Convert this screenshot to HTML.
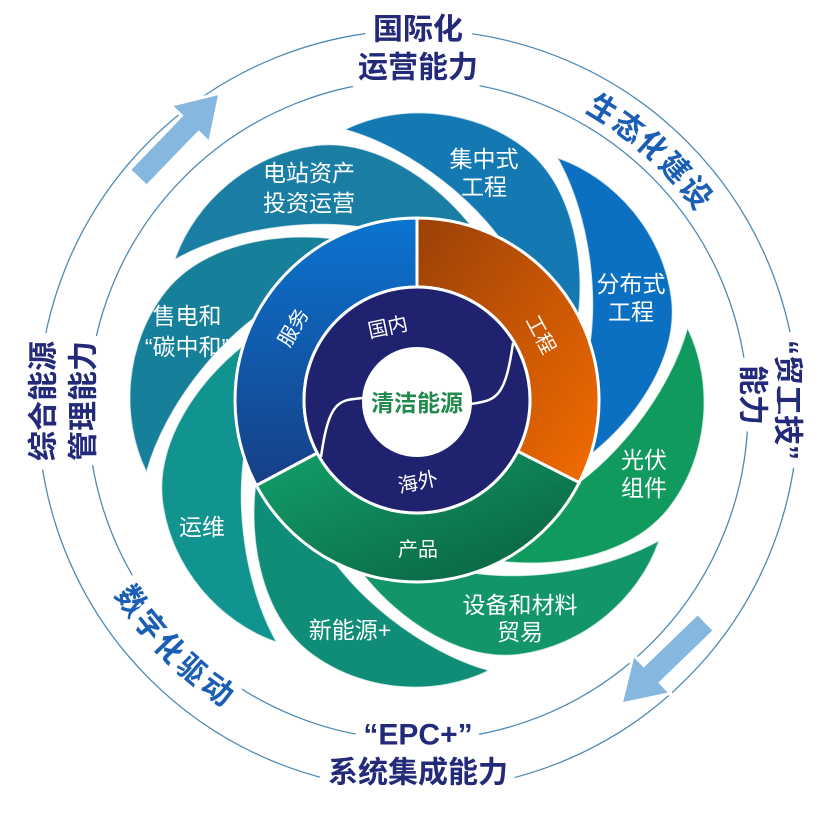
<!DOCTYPE html>
<html><head><meta charset="utf-8">
<style>
html,body{margin:0;padding:0;background:#fff;}
svg{display:block;}
text{font-family:"Liberation Sans","Noto Sans CJK SC",sans-serif;}
</style></head>
<body>
<svg width="832" height="822" viewBox="0 0 832 822" xmlns="http://www.w3.org/2000/svg">
<defs>
  <path id="blade" d="M0,-280 C60,-292 130,-268 170,-215 C205,-168 200,-95 178,-40 L130,-109 C115,-170 60,-245 0,-280 Z"/>
  <path id="cw" d="M418,58 A352,352 0 1 1 418,762 A352,352 0 1 1 418,58"/>
  <path id="ccw" d="M418,65 A345,345 0 1 0 418,755 A345,345 0 1 0 418,65"/>
  <clipPath id="clipTop"><rect x="0" y="0" width="545" height="300"/></clipPath>
  <linearGradient id="gBlue" x1="0" y1="0" x2="0" y2="1"><stop offset="0" stop-color="#0a74d0"/><stop offset="1" stop-color="#173f86"/></linearGradient>
  <linearGradient id="gOrange" x1="0" y1="0" x2="1" y2="1"><stop offset="0" stop-color="#9a4008"/><stop offset="1" stop-color="#f46c00"/></linearGradient>
  <linearGradient id="gGreen" x1="0" y1="0" x2="1" y2="1"><stop offset="0" stop-color="#12a06a"/><stop offset="1" stop-color="#0a5e3e"/></linearGradient>
</defs>

<circle cx="418" cy="410" r="380" fill="none" stroke="#4f8ab5" stroke-width="1.3"/>
<circle cx="418" cy="410" r="330" fill="none" stroke="#4f8ab5" stroke-width="1.3"/>

<g transform="translate(138,178) rotate(-46)"><polygon points="0,-12 75,-12 75,-27 118,0 75,27 75,12 0,12" fill="#86b8df" stroke="#fff" stroke-width="3"/></g>
<g transform="translate(706,622) rotate(136)"><polygon points="0,-12 75,-12 75,-27 118,0 75,27 75,12 0,12" fill="#86b8df" stroke="#fff" stroke-width="3"/></g>

<g stroke="rgba(255,255,255,0.75)" stroke-width="1.5">
<use href="#blade" transform="translate(417,400) rotate(-15)" fill="#1479b3"/>
<use href="#blade" transform="translate(417,400) rotate(30)" fill="#0b6fc2"/>
<use href="#blade" transform="translate(417,400) rotate(75)" fill="#109a5e"/>
<use href="#blade" transform="translate(417,400) rotate(120)" fill="#12956a"/>
<use href="#blade" transform="translate(417,400) rotate(165)" fill="#0f8d76"/>
<use href="#blade" transform="translate(417,400) rotate(210)" fill="#119390"/>
<use href="#blade" transform="translate(417,400) rotate(255)" fill="#167f99"/>
<use href="#blade" transform="translate(417,400) rotate(300)" fill="#1a7ea4"/>
<g clip-path="url(#clipTop)"><use href="#blade" transform="translate(417,400) rotate(-15)" fill="#1479b3"/></g>
</g>

<g stroke="#fff" stroke-width="3">
<path d="M417,218 A182,182 0 0 1 579.2,482.6 L517.7,451.3 A113,113 0 0 0 417,287 Z" fill="url(#gOrange)"/>
<path d="M579.2,482.6 A182,182 0 0 1 256.3,485.4 L317.2,453 A113,113 0 0 0 517.7,451.3 Z" fill="url(#gGreen)"/>
<path d="M256.3,485.4 A182,182 0 0 1 417,218 L417,287 A113,113 0 0 0 317.2,453 Z" fill="url(#gBlue)"/>
</g>
<circle cx="417" cy="400" r="113" fill="#1f226e" stroke="#fff" stroke-width="3"/>
<circle cx="417" cy="402" r="55" fill="#fff"/>
<path d="M513,343 C505,400 495,400 471,404" fill="none" stroke="#fff" stroke-width="2.5"/>
<path d="M321,457 C329,400 339,400 363,398" fill="none" stroke="#fff" stroke-width="2.5"/>

<g fill="#fff" font-size="20" text-anchor="middle" dominant-baseline="central">
<text x="388" y="328" transform="rotate(-12 388 328)">国内</text>
<text x="418" y="483" transform="rotate(-12 418 483)">海外</text>
<text x="294" y="328" transform="rotate(-60 294 328)">服务</text>
<text x="540" y="335" transform="rotate(62 540 335)">工程</text>
<text x="418" y="550">产品</text>
</g>
<text x="417" y="403" fill="#218a4c" font-size="23" font-weight="bold" text-anchor="middle" dominant-baseline="central">清洁能源</text>

<g fill="#fff" font-size="23" text-anchor="middle" dominant-baseline="central">
<text x="309" y="173">电站资产</text><text x="309" y="203">投资运营</text>
<text x="484" y="159">集中式</text><text x="484" y="187">工程</text>
<text x="631" y="284">分布式</text><text x="631" y="312">工程</text>
<text x="644" y="460">光伏</text><text x="644" y="488">组件</text>
<text x="520" y="605">设备和材料</text><text x="520" y="632">贸易</text>
<text x="350" y="630">新能源+</text>
<text x="202" y="527">运维</text>
<text x="187" y="316">售电和</text><text x="187" y="347">“碳中和”</text>
</g>

<g fill="#232a7a" font-size="30" font-weight="bold" text-anchor="middle" dominant-baseline="central" stroke="#fff" stroke-width="20" paint-order="stroke" stroke-linejoin="round">
<text x="418" y="30">国际化</text>
<text x="418" y="68">运营能力</text>
<text x="418" y="735">“EPC+”</text>
<text x="418" y="773">系统集成能力</text>
<text x="787" y="400" transform="rotate(90 787 400)">“贸工技”</text>
<text x="752" y="395" transform="rotate(90 752 395)">能力</text>
<text x="44" y="401" transform="rotate(-90 44 401)">综合能源</text>
<text x="84" y="401" transform="rotate(-90 84 401)">管理能力</text>
</g>
<g fill="#1a5fb4" font-size="31" font-weight="bold" text-anchor="middle" stroke="#fff" stroke-width="16" paint-order="stroke" stroke-linejoin="round">
<text dy="10"><textPath href="#cw" startOffset="257">生态化建设</textPath></text>
<text dy="10"><textPath href="#ccw" startOffset="807">数字化驱动</textPath></text>
</g>
</svg>
</body></html>
